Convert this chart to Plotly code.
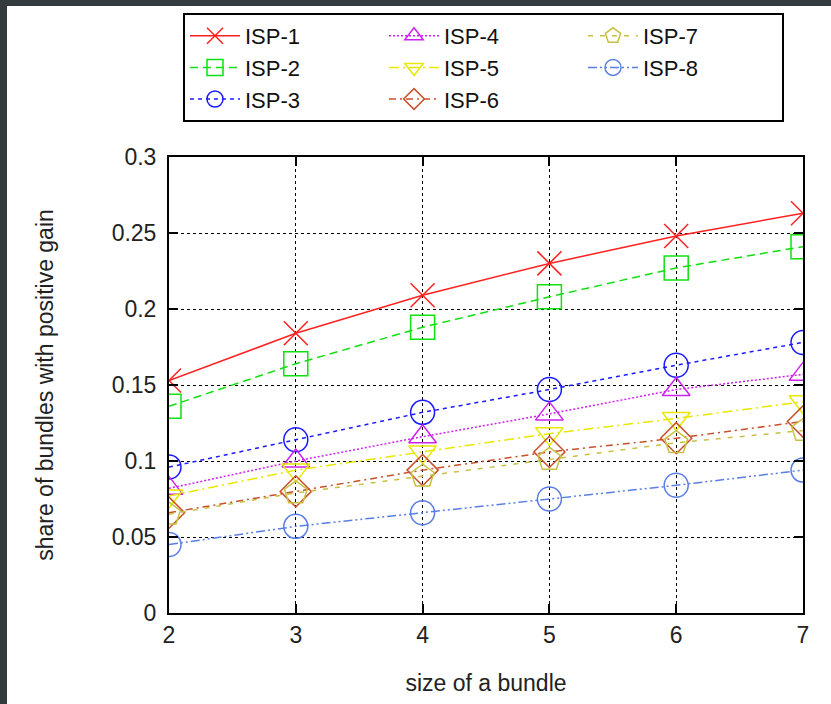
import plotly.graph_objects as go

bundle_size = [2, 3, 4, 5, 6, 7]
isp1 = [0.153, 0.184, 0.209, 0.230, 0.248, 0.263]
isp2 = [0.136, 0.164, 0.188, 0.208, 0.227, 0.241]
isp3 = [0.096, 0.114, 0.132, 0.147, 0.163, 0.178]
isp4 = [0.082, 0.100, 0.116, 0.131, 0.147, 0.157]
isp5 = [0.077, 0.094, 0.106, 0.118, 0.128, 0.139]
isp6 = [0.066, 0.080, 0.094, 0.106, 0.115, 0.126]
isp7 = [0.065, 0.079, 0.090, 0.101, 0.112, 0.120]
isp8 = [0.045, 0.057, 0.066, 0.075, 0.084, 0.094]

names = ["ISP-1", "ISP-2", "ISP-3", "ISP-4", "ISP-5", "ISP-6", "ISP-7", "ISP-8"]
series = [isp1, isp2, isp3, isp4, isp5, isp6, isp7, isp8]
colors = ["#ff2020", "#10e010", "#1a1aff", "#cc22ee", "#e8e800", "#c8502a", "#c8c040", "#5a7ee8"]
dashes = ["solid", "8px,5px", "4px,4px", "2px,2px", "10px,4px,2px,4px", "7px,4px,2px,4px", "5px,7px", "9px,3px,2px,3px,2px,3px"]
symbols = ["x-thin-open", "square-open", "circle-open", "triangle-up-open", "triangle-down-open",
           "diamond-open", "pentagon-open", "circle-open"]
ranks = [1, 4, 7, 2, 5, 8, 3, 6]

W, H = 831, 704
L, R, T, B = 169, 28, 157, 91
PW, PH = W - L - R, H - T - B

fig = go.Figure()
for n, s, c, d, sym, rk in zip(names, series, colors, dashes, symbols, ranks):
    fig.add_trace(go.Scatter(
        x=bundle_size, y=s, name=n, mode="lines+markers", legendrank=rk,
        line=dict(color=c, width=1.5, dash=d),
        marker=dict(symbol=sym, size=24, color=c, line=dict(color=c, width=1.5)),
    ))

font = "Liberation Sans, Arial, sans-serif"
axis_common = dict(
    showline=True, linecolor="black", linewidth=2, mirror="allticks",
    ticks="inside", ticklen=9, tickwidth=2, tickcolor="black",
    showgrid=True, gridcolor="black", griddash="3px,3px", gridwidth=1,
    zeroline=False, tickfont=dict(family=font, size=23, color="#222"),
)
fig.update_xaxes(range=[2, 7], tickvals=bundle_size, **axis_common,
                 title=dict(text="size of a bundle", font=dict(family=font, size=23, color="#222"), standoff=28))
fig.update_yaxes(range=[0, 0.3], tickvals=[0, 0.05, 0.1, 0.15, 0.2, 0.25, 0.3],
                 ticktext=["0", "0.05", "0.1", "0.15", "0.2", "0.25", "0.3"], ticklabelstandoff=6, **axis_common,
                 title=dict(text="share of bundles with positive gain", font=dict(family=font, size=23, color="#222"), standoff=52))

dark = "#343b3f"
fig.update_layout(
    width=W, height=H,
    margin=dict(l=L, r=R, t=T, b=B, pad=0),
    paper_bgcolor=dark, plot_bgcolor="white",
    legend=dict(
        orientation="h", x=(183 - L) / PW, y=(H - B - 13) / PH, xanchor="left", yanchor="top",
        bordercolor="black", borderwidth=2, bgcolor="white",
        font=dict(family=font, size=22, color="#111"),
        entrywidth=134, entrywidthmode="pixels", itemwidth=50, tracegroupgap=0,
    ),
    shapes=[
        dict(type="rect", xref="paper", yref="paper", x0=(7 - L) / PW, x1=(W - L) / PW,
             y0=-B / PH, y1=(H - B - 6) / PH, fillcolor="white", line_width=0, layer="below"),
    ],
)
fig.write_html("out.html", config={"displayModeBar": False},
               post_script="document.body.style.margin='0';document.body.style.overflow='hidden';")
